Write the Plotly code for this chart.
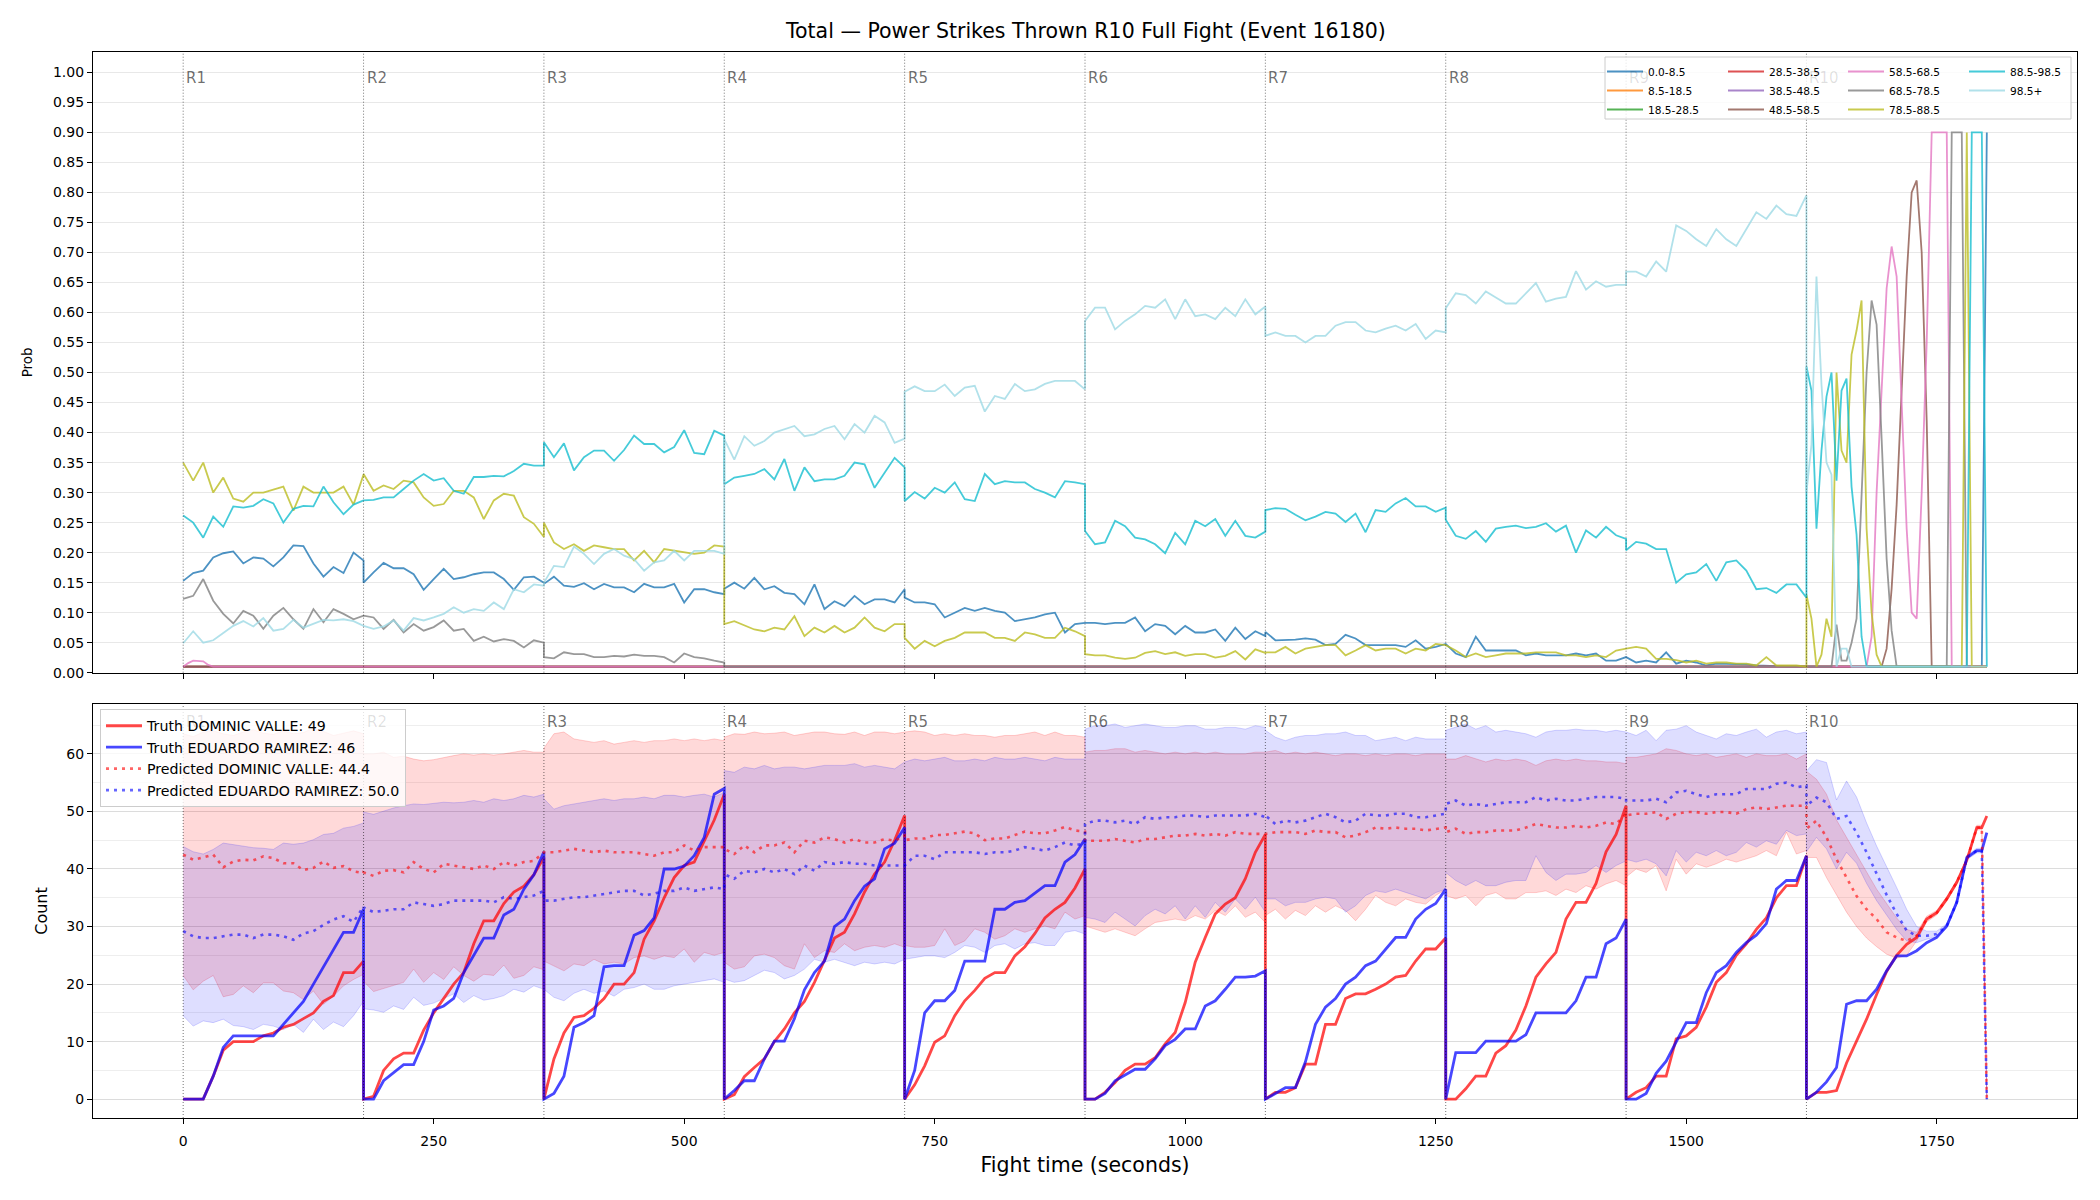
import plotly.graph_objects as go

# ---------------- structure ----------------
ROUND_STARTS = [0, 180, 360, 540, 720, 900, 1080, 1260, 1440, 1620]
ROUND_NAMES = ["R1", "R2", "R3", "R4", "R5", "R6", "R7", "R8", "R9", "R10"]
STEP = 10                      # sampling step (s) used for rounds 1-9
SAMPLES_PER_ROUND = 19         # 0..180 s
TOP_R10_T = [1620, 1625, 1630, 1635, 1640, 1645, 1650, 1655, 1660, 1665, 1670, 1675,
             1680, 1685, 1690, 1695, 1700, 1705, 1710, 1715, 1720, 1725, 1730, 1735,
             1740, 1745, 1750, 1755, 1760, 1765, 1770, 1775, 1780, 1785, 1790, 1795, 1800]
BOT_R10_T = [1620, 1630, 1640, 1650, 1660, 1670, 1680, 1690, 1700, 1710, 1720, 1730,
             1740, 1750, 1760, 1770, 1780, 1790, 1795, 1800]

BINS = ["0.0-8.5", "8.5-18.5", "18.5-28.5", "28.5-38.5", "38.5-48.5", "48.5-58.5",
        "58.5-68.5", "68.5-78.5", "78.5-88.5", "88.5-98.5", "98.5+"]

# ---------------- top panel: bin probabilities ----------------
P_0_8 = [
    [0.153, 0.166, 0.17, 0.192, 0.199, 0.202, 0.182, 0.192, 0.19, 0.177, 0.192, 0.212, 0.211, 0.182, 0.16, 0.176, 0.166, 0.2, 0.187],
    [0.15, 0.167, 0.183, 0.174, 0.174, 0.164, 0.138, 0.156, 0.173, 0.156, 0.159, 0.164, 0.167, 0.167, 0.156, 0.138, 0.159, 0.16, 0.15],
    [0.148, 0.16, 0.145, 0.143, 0.149, 0.139, 0.148, 0.142, 0.142, 0.134, 0.148, 0.142, 0.142, 0.148, 0.117, 0.139, 0.139, 0.134, 0.131],
    [0.14, 0.15, 0.14, 0.158, 0.139, 0.144, 0.133, 0.131, 0.114, 0.147, 0.106, 0.119, 0.111, 0.128, 0.114, 0.122, 0.122, 0.117, 0.139],
    [0.125, 0.117, 0.117, 0.114, 0.092, 0.1, 0.108, 0.103, 0.108, 0.103, 0.1, 0.086, 0.089, 0.092, 0.097, 0.1, 0.067, 0.081, 0.083],
    [0.083, 0.083, 0.081, 0.083, 0.083, 0.092, 0.069, 0.081, 0.078, 0.064, 0.078, 0.067, 0.067, 0.072, 0.053, 0.075, 0.056, 0.069, 0.061],
    [0.068, 0.054, 0.054, 0.055, 0.057, 0.055, 0.046, 0.048, 0.063, 0.057, 0.046, 0.046, 0.046, 0.046, 0.043, 0.054, 0.04, 0.043, 0.048],
    [0.048, 0.032, 0.026, 0.06, 0.037, 0.037, 0.037, 0.037, 0.029, 0.032, 0.029, 0.029, 0.029, 0.032, 0.029, 0.032, 0.02, 0.02, 0.026],
    [0.026, 0.017, 0.02, 0.017, 0.034, 0.015, 0.02, 0.017, 0.012, 0.015, 0.015, 0.015, 0.014, 0.012, 0.012, 0.011, 0.01, 0.01, 0.01],
]
P_0_8_R10 = [0.01, 0.01, 0.01, 0.01, 0.01, 0.01, 0.01, 0.01, 0.01, 0.01,
             0.01, 0.01, 0.01, 0.01, 0.01, 0.01, 0.01, 0.01, 0.01, 0.01,
             0.01, 0.01, 0.01, 0.01, 0.01, 0.01, 0.01, 0.01, 0.01, 0.01,
             0.01, 0.01, 0.01, 0.01, 0.01, 0.01, 0.9]

FLAT_T = [0, 1800]
FLAT_V = [0.01, 0.01]

P_48_58_T = [0, 1620]
P_48_58_V = [0.01, 0.01]
P_48_58_R10 = [0.01, 0.01, 0.01, 0.01, 0.01, 0.01, 0.01, 0.01, 0.01, 0.01,
               0.01, 0.01, 0.01, 0.01, 0.01, 0.01, 0.04, 0.14, 0.28, 0.48,
               0.66, 0.80, 0.82, 0.70, 0.42, 0.01, 0.01, 0.01, 0.01, 0.01,
               0.01, 0.01, 0.01, 0.01, 0.01, 0.01, 0.01]

P_58_68_T = [0, 5, 10, 15, 20, 25, 30, 1620]
P_58_68_V = [0.01, 0.016, 0.02, 0.02, 0.019, 0.013, 0.01, 0.01]
P_58_68_R10 = [0.01, 0.01, 0.01, 0.01, 0.01, 0.01, 0.01, 0.01, 0.01, 0.01,
               0.01, 0.01, 0.01, 0.06, 0.30, 0.47, 0.64, 0.71, 0.66, 0.45,
               0.24, 0.10, 0.09, 0.30, 0.55, 0.9, 0.9, 0.9, 0.9, 0.01,
               0.01, 0.01, 0.01, 0.01, 0.01, 0.01, 0.01]

P_68_78 = [
    [0.123, 0.128, 0.156, 0.12, 0.098, 0.082, 0.103, 0.095, 0.073, 0.095, 0.108, 0.089, 0.073, 0.106, 0.084, 0.106, 0.098, 0.089, 0.095],
    [0.095, 0.092, 0.073, 0.088, 0.067, 0.081, 0.07, 0.076, 0.087, 0.07, 0.073, 0.053, 0.06, 0.052, 0.056, 0.053, 0.042, 0.054, 0.05],
    [0.026, 0.024, 0.034, 0.031, 0.031, 0.026, 0.026, 0.028, 0.027, 0.03, 0.028, 0.028, 0.026, 0.017, 0.032, 0.026, 0.024, 0.02, 0.017],
]
P_68_78_MID_T = [540, 1620]
P_68_78_MID_V = [0.01, 0.01]
P_68_78_R10 = [0.01, 0.01, 0.01, 0.01, 0.01, 0.01, 0.08, 0.02, 0.02, 0.05,
               0.09, 0.29, 0.50, 0.62, 0.58, 0.39, 0.19, 0.07, 0.01, 0.01,
               0.01, 0.01, 0.01, 0.01, 0.01, 0.01, 0.01, 0.01, 0.01, 0.9,
               0.9, 0.9, 0.01, 0.01, 0.01, 0.01, 0.01]

P_78_88 = [
    [0.35, 0.32, 0.35, 0.30, 0.325, 0.29, 0.285, 0.30, 0.30, 0.305, 0.31, 0.27, 0.31, 0.30, 0.30, 0.30, 0.31, 0.28, 0.33],
    [0.331, 0.303, 0.312, 0.306, 0.32, 0.317, 0.292, 0.278, 0.281, 0.303, 0.303, 0.292, 0.256, 0.287, 0.298, 0.295, 0.259, 0.248, 0.226],
    [0.25, 0.217, 0.206, 0.214, 0.203, 0.212, 0.209, 0.206, 0.206, 0.187, 0.203, 0.184, 0.206, 0.203, 0.2, 0.198, 0.2, 0.212, 0.21],
    [0.081, 0.086, 0.079, 0.072, 0.069, 0.075, 0.072, 0.094, 0.061, 0.075, 0.067, 0.078, 0.067, 0.075, 0.092, 0.075, 0.069, 0.081, 0.081],
    [0.058, 0.04, 0.053, 0.044, 0.053, 0.058, 0.067, 0.067, 0.067, 0.058, 0.058, 0.053, 0.067, 0.064, 0.058, 0.058, 0.075, 0.069, 0.061],
    [0.031, 0.029, 0.029, 0.025, 0.023, 0.025, 0.033, 0.036, 0.031, 0.034, 0.028, 0.031, 0.031, 0.025, 0.028, 0.036, 0.022, 0.039, 0.033],
    [0.034, 0.034, 0.043, 0.032, 0.04, 0.043, 0.046, 0.046, 0.029, 0.037, 0.046, 0.037, 0.04, 0.04, 0.032, 0.04, 0.037, 0.048, 0.046],
    [0.046, 0.037, 0.026, 0.032, 0.026, 0.029, 0.032, 0.032, 0.032, 0.034, 0.034, 0.034, 0.029, 0.029, 0.026, 0.029, 0.026, 0.037, 0.04],
    [0.04, 0.043, 0.04, 0.023, 0.023, 0.021, 0.017, 0.02, 0.015, 0.017, 0.017, 0.015, 0.015, 0.012, 0.026, 0.012, 0.012, 0.012, 0.01],
]
P_78_88_R10 = [0.13, 0.09, 0.01, 0.03, 0.09, 0.06, 0.50, 0.37, 0.35, 0.53,
               0.57, 0.62, 0.24, 0.10, 0.03, 0.01, 0.01, 0.01, 0.01, 0.01,
               0.01, 0.01, 0.01, 0.01, 0.01, 0.01, 0.01, 0.01, 0.01, 0.01,
               0.01, 0.01, 0.9, 0.01, 0.01, 0.01, 0.01]

P_88_98 = [
    [0.262, 0.25, 0.225, 0.26, 0.243, 0.277, 0.275, 0.278, 0.289, 0.282, 0.25, 0.273, 0.278, 0.277, 0.31, 0.284, 0.264, 0.28, 0.287],
    [0.287, 0.288, 0.292, 0.292, 0.306, 0.32, 0.331, 0.32, 0.324, 0.303, 0.298, 0.326, 0.326, 0.328, 0.327, 0.336, 0.348, 0.345, 0.345],
    [0.384, 0.359, 0.382, 0.337, 0.359, 0.37, 0.37, 0.353, 0.371, 0.395, 0.381, 0.381, 0.367, 0.376, 0.404, 0.366, 0.364, 0.403, 0.395],
    [0.314, 0.325, 0.328, 0.331, 0.339, 0.322, 0.356, 0.303, 0.342, 0.319, 0.322, 0.322, 0.328, 0.35, 0.347, 0.308, 0.333, 0.358, 0.342],
    [0.286, 0.301, 0.29, 0.308, 0.3, 0.317, 0.289, 0.286, 0.331, 0.314, 0.319, 0.317, 0.317, 0.306, 0.3, 0.292, 0.319, 0.317, 0.314],
    [0.236, 0.214, 0.217, 0.253, 0.244, 0.225, 0.222, 0.214, 0.199, 0.233, 0.214, 0.253, 0.244, 0.256, 0.228, 0.253, 0.228, 0.225, 0.235],
    [0.271, 0.274, 0.273, 0.263, 0.254, 0.26, 0.268, 0.265, 0.251, 0.265, 0.234, 0.271, 0.268, 0.282, 0.291, 0.277, 0.277, 0.268, 0.275],
    [0.255, 0.228, 0.223, 0.236, 0.218, 0.24, 0.243, 0.245, 0.241, 0.243, 0.249, 0.235, 0.245, 0.2, 0.237, 0.225, 0.243, 0.229, 0.223],
    [0.204, 0.218, 0.215, 0.206, 0.206, 0.15, 0.164, 0.167, 0.181, 0.153, 0.184, 0.187, 0.17, 0.139, 0.141, 0.133, 0.147, 0.147, 0.125],
]
P_88_98_R10 = [0.51, 0.47, 0.24, 0.37, 0.46, 0.50, 0.32, 0.47, 0.49, 0.31,
               0.23, 0.06, 0.01, 0.01, 0.01, 0.01, 0.01, 0.01, 0.01, 0.01,
               0.01, 0.01, 0.01, 0.01, 0.01, 0.01, 0.01, 0.01, 0.01, 0.01,
               0.01, 0.01, 0.01, 0.9, 0.9, 0.9, 0.01]

P_98 = [
    [0.049, 0.069, 0.05, 0.054, 0.066, 0.078, 0.086, 0.077, 0.091, 0.07, 0.073, 0.088, 0.075, 0.082, 0.088, 0.087, 0.089, 0.086, 0.078],
    [0.078, 0.073, 0.077, 0.087, 0.07, 0.091, 0.087, 0.092, 0.098, 0.109, 0.1, 0.106, 0.103, 0.117, 0.106, 0.139, 0.134, 0.147, 0.145],
    [0.15, 0.178, 0.176, 0.21, 0.198, 0.181, 0.198, 0.206, 0.195, 0.189, 0.17, 0.184, 0.187, 0.203, 0.187, 0.203, 0.203, 0.203, 0.198],
    [0.389, 0.355, 0.394, 0.378, 0.386, 0.4, 0.406, 0.411, 0.394, 0.397, 0.406, 0.411, 0.389, 0.414, 0.4, 0.428, 0.417, 0.383, 0.39],
    [0.468, 0.477, 0.469, 0.469, 0.48, 0.461, 0.475, 0.478, 0.435, 0.461, 0.456, 0.481, 0.469, 0.472, 0.481, 0.486, 0.486, 0.486, 0.472],
    [0.586, 0.608, 0.608, 0.572, 0.586, 0.597, 0.611, 0.608, 0.622, 0.589, 0.622, 0.594, 0.597, 0.589, 0.608, 0.594, 0.622, 0.597, 0.61],
    [0.561, 0.567, 0.561, 0.561, 0.55, 0.561, 0.561, 0.578, 0.584, 0.584, 0.57, 0.567, 0.573, 0.578, 0.57, 0.581, 0.556, 0.57, 0.567],
    [0.607, 0.632, 0.629, 0.615, 0.635, 0.625, 0.615, 0.615, 0.632, 0.649, 0.618, 0.623, 0.626, 0.669, 0.638, 0.652, 0.643, 0.646, 0.646],
    [0.668, 0.668, 0.66, 0.685, 0.668, 0.745, 0.736, 0.722, 0.711, 0.739, 0.722, 0.711, 0.739, 0.767, 0.756, 0.778, 0.764, 0.761, 0.795],
]
P_98_R10 = [0.30, 0.38, 0.66, 0.48, 0.35, 0.33, 0.01, 0.04, 0.04, 0.01,
            0.01, 0.01, 0.01, 0.01, 0.01, 0.01, 0.01, 0.01, 0.01, 0.01,
            0.01, 0.01, 0.01, 0.01, 0.01, 0.01, 0.01, 0.01, 0.01, 0.01,
            0.01, 0.01, 0.01, 0.01, 0.01, 0.01, 0.01]

# ---------------- bottom panel: counts ----------------
RED_NAME = "DOMINIC VALLE"
BLUE_NAME = "EDUARDO RAMIREZ"
RED_FINAL_TRUTH = 49
BLUE_FINAL_TRUTH = 46
RED_FINAL_PRED = 44.4
BLUE_FINAL_PRED = 50.0

TRUTH_RED = [
    [0, 0, 0, 4, 8.5, 10, 10, 10, 11, 11.5, 12.5, 13, 14, 15, 17, 18, 22, 22, 24],
    [0, 0.5, 5, 7, 8, 8, 12, 15, 17.5, 20, 22, 27, 31, 31, 34, 36, 37, 39, 42],
    [0, 7, 11.5, 14.2, 14.5, 15.8, 17.5, 20, 20, 22, 27.8, 31, 35, 38.5, 40.6, 41.2, 45, 48.5, 53],
    [0, 0.8, 3.9, 5.5, 7, 10, 12.2, 15, 17, 20.3, 24, 28, 29, 32.2, 36, 39.1, 41.2, 45, 49.3],
    [0, 2.5, 5.8, 9.9, 11, 14.5, 17.1, 18.9, 21, 22, 22, 24.9, 26.5, 28.8, 31.5, 33, 34.2, 36.7, 40],
    [0, 0, 1.2, 2.9, 5, 6.1, 6.1, 7.2, 9.6, 11.6, 16.8, 23.8, 28.1, 32.2, 33.9, 35, 38.3, 42.9, 46],
    [0, 1.2, 1.2, 2, 6.1, 6.1, 13, 13, 17.5, 18.3, 18.3, 19.1, 20, 21.2, 21.5, 24, 26.1, 26.1, 28],
    [0, 0, 1.8, 4, 4, 8, 9.3, 12, 16.2, 21.2, 23.5, 25.5, 31.3, 34.2, 34.2, 37.5, 43, 46, 51],
    [0, 1.2, 2, 4, 4, 10.5, 11, 12.5, 16, 20.3, 22, 25, 27, 29.5, 31.5, 35, 37.1, 37.1, 42.3],
]
TRUTH_RED_R10 = [0, 1.2, 1.2, 1.5, 6.3, 10.1, 13.9, 18.2, 22.2, 25, 26.9, 28.1, 31.3, 32.4, 34.8, 37.7, 41.5, 47.2, 47.2, 49.2]

TRUTH_BLUE = [
    [0, 0, 0, 4, 9, 11, 11, 11, 11, 11, 13, 15, 17, 20, 23, 26, 29, 29, 33],
    [0, 0, 3.2, 4.6, 6, 6, 10, 15.5, 16.2, 17.5, 22, 25, 28, 28, 32, 33, 36.5, 39, 43],
    [0, 1, 4, 12.5, 13.3, 14.5, 23, 23.2, 23.2, 28.5, 29.3, 31.5, 40, 40, 40.5, 42.3, 45.5, 53, 54],
    [0, 1.5, 3.2, 3.2, 7, 10.1, 10.1, 14, 19, 22, 24, 30, 31.3, 34.5, 37, 38.3, 43.5, 44.5, 47.2],
    [0, 5, 15, 17.1, 17.1, 18.9, 24, 24, 24, 33, 33, 34.2, 34.5, 35.8, 37.1, 37.1, 41.2, 42.5, 45.2],
    [0, 0, 1, 3.2, 4.2, 5.2, 5.2, 7, 9.3, 10.4, 12.2, 12.2, 16.2, 17.1, 19.1, 21.2, 21.2, 21.4, 22.3],
    [0, 1, 2, 2, 6.5, 13, 16, 17.5, 20, 21.2, 23.2, 24, 26.1, 28.1, 28.1, 31.3, 33, 34, 36.5],
    [0, 8.1, 8.1, 8.1, 10.1, 10.1, 10.1, 10.1, 11.2, 15, 15, 15, 15, 17.1, 21.2, 21.2, 27, 28, 31.3],
    [0, 0, 1, 4.5, 6.6, 9.9, 13.3, 13.3, 18.5, 22, 23.2, 25.5, 27.2, 28.5, 30.5, 36.5, 38, 38, 42.3],
]
TRUTH_BLUE_R10 = [0, 1.2, 3, 5.5, 16.5, 17.1, 17.1, 19.1, 22.3, 24.9, 24.9, 25.8, 27.2, 28.1, 30.1, 34.2, 42, 43.2, 43.2, 46.3]

PRED_RED = [
    [42.5, 41.6, 42, 42.5, 40.3, 41.3, 41.6, 41.5, 42.2, 41.9, 41, 41, 39.8, 40.2, 41.3, 40.2, 40.5, 39.6, 39.3],
    [39.4, 38.8, 39.7, 39.8, 39.4, 41.2, 40, 39.4, 40.9, 40.6, 40.3, 40, 40.6, 40, 41.2, 40.6, 41.2, 41.4, 42.9],
    [42.9, 42.9, 43.2, 43.5, 43.2, 42.9, 43.2, 42.9, 42.9, 42.9, 42.6, 42.3, 42.9, 42.9, 44.1, 43.2, 43.8, 43.8, 43.8],
    [43.5, 42.6, 44.1, 42.9, 44.1, 44.1, 44.6, 42.9, 44.9, 44.6, 45.5, 45.2, 44.6, 45.2, 44.6, 44.6, 45.2, 44.9, 45.8],
    [45.0, 45.3, 45.3, 45.9, 45.9, 46.2, 46.5, 46.2, 45.0, 45.3, 45.3, 45.9, 46.5, 46.2, 46.2, 46.7, 47.3, 46.7, 46.5],
    [44.9, 44.9, 44.9, 45.2, 44.9, 44.6, 45.2, 45.2, 45.5, 45.8, 45.8, 46.1, 45.8, 46.1, 45.8, 46.4, 46.1, 46.1, 46.1],
    [46.1, 46.4, 46.4, 46.4, 46.1, 46.7, 46.4, 46.4, 45.5, 45.8, 46.4, 47.2, 47, 47.2, 47, 47, 46.7, 47, 47.2],
    [46.4, 47, 46.1, 46.4, 46.4, 46.7, 46.7, 46.7, 47.2, 47.8, 47.5, 47.2, 47.2, 47.5, 47.2, 47.5, 48.1, 47.8, 49.6],
    [49.3, 49.6, 49.6, 49.9, 48.7, 49.6, 49.9, 49.9, 49.6, 49.9, 49.9, 49.6, 50.4, 50.7, 50.4, 50.7, 51, 51, 51],
]
PRED_RED_R10 = [47, 48.4, 45.5, 41.7, 38.5, 35.3, 33, 31.3, 29, 28.1, 27.5, 28.4, 31.3, 32.4, 34.8, 37.7, 41.5, 47.2, 47.2, 0]

PRED_BLUE = [
    [29.2, 28.3, 28, 28, 28.3, 28.6, 28.6, 28, 28.6, 28.6, 28.3, 27.7, 28.8, 29.2, 30.3, 31.2, 31.8, 30.8, 33.5],
    [33.3, 32.5, 32.8, 33, 33, 34.2, 33.9, 33.6, 33.9, 34.5, 34.5, 34.5, 34.5, 34.2, 35.1, 34.8, 35.1, 35.4, 36.2],
    [34.5, 34.5, 34.8, 35.1, 35.1, 35.4, 35.7, 35.9, 36.2, 36.2, 35.4, 35.7, 36.2, 36.2, 36.8, 36.2, 36.5, 36.8, 36.5],
    [39.1, 38.3, 39.7, 39.4, 40, 39.4, 40, 39.1, 40.6, 39.7, 41.2, 40.9, 41.2, 40.9, 40.9, 40.6, 40.6, 40.6, 40.6],
    [40.6, 42.3, 42.3, 41.7, 42.9, 42.9, 42.9, 42.9, 42.6, 42.9, 42.9, 43.2, 43.8, 43.5, 43.2, 43.8, 44.6, 44.1, 44.5],
    [47.8, 48.4, 48.4, 48.1, 48.4, 47.8, 49, 48.7, 49, 49, 49.3, 49.3, 49, 49.3, 49.3, 49.3, 49.3, 49.6, 49],
    [49.3, 47.8, 48.4, 48.1, 48.4, 49, 49.6, 49, 48.1, 48.4, 49.6, 49.3, 49.3, 49.6, 49.6, 49, 49, 49.3, 49.6],
    [51.3, 51.9, 51, 51.3, 51, 51.3, 51.6, 51.6, 51.6, 52.5, 51.9, 52.2, 51.9, 51.9, 52.2, 52.5, 52.5, 52.5, 52.2],
    [51.9, 51.9, 51.9, 52.2, 51.6, 53.3, 53.6, 53, 52.5, 53, 53, 53, 53.9, 53.9, 53.9, 54.8, 55, 54.2, 54.5],
]
PRED_BLUE_R10 = [51, 52.4, 51.6, 48.7, 49.2, 46.3, 42.9, 39.1, 35.5, 32.2, 29.3, 28.4, 28.4, 28.7, 30.1, 34.2, 42, 43.2, 43.2, 0]

RED_HI = [
    [63.5, 63, 63.8, 64, 63.5, 63.2, 63.8, 64.2, 63.6, 63.4, 64, 63.5, 63.7, 64.5, 63.9, 63.2, 63.6, 64, 63.5],
    [60, 60, 60.3, 59.4, 59.6, 59.1, 58.8, 59, 59.4, 59.7, 60, 59.8, 60, 59.8, 60, 60.3, 60.6, 60.3, 60.3],
    [61, 63.5, 63.8, 62.6, 62.3, 62, 62.3, 61.7, 62, 62.3, 62, 62.3, 62.3, 62.6, 62.3, 62.6, 62.3, 62.6, 62.3],
    [62.9, 63.5, 63.4, 63.8, 63.5, 63.6, 63.8, 63.2, 63.5, 63.8, 63.8, 63.5, 63.4, 63.8, 63.2, 63.8, 63.8, 63.5, 63.8],
    [63.8, 64, 63.8, 63.2, 63.5, 63.2, 63.5, 63.2, 63.2, 62.9, 63.2, 63.2, 63.5, 63.8, 63.2, 63.8, 63.2, 63.2, 62.9],
    [60.3, 60.6, 60.6, 60.9, 60.9, 60.3, 60.6, 60.3, 60, 60.3, 60, 60.3, 60, 60.3, 60, 60, 60, 60.3, 60.3],
    [60.3, 60.6, 60, 60.3, 60, 60.3, 60, 59.7, 60, 60, 59.7, 60, 59.7, 60, 60, 59.7, 60, 60, 60],
    [59.1, 59.1, 59.7, 59.1, 58.6, 59.1, 58.8, 59.1, 58.8, 58, 58.8, 59.1, 58.8, 59.1, 58.8, 58.8, 58.6, 58.6, 58.3],
    [59.4, 59.4, 59.7, 60, 60.9, 60.6, 60, 59.7, 60, 59.4, 59.7, 60, 59.4, 60, 59.7, 59.7, 60, 59.1, 60],
]
RED_HI_R10 = [57, 55.6, 53, 48.5, 45.5, 42.5, 39.5, 36.5, 34, 31.5, 29.5, 29, 31.8, 32.8, 35.2, 38, 41.8, 47.6, 47.6, 0]

RED_LO = [
    [21.5, 19, 20.5, 21.5, 17.8, 18.2, 19.7, 18.5, 20.2, 20.2, 18.8, 18.5, 17.3, 18.8, 16.5, 17.9, 19.7, 20.8, 21.7],
    [20.5, 18.7, 19.2, 19.8, 20.3, 22.6, 20.3, 22, 20.8, 23, 21.5, 20.5, 21.7, 21.5, 23.3, 21, 21.5, 23, 22.5],
    [24, 23.2, 22.3, 23.5, 23.2, 24.3, 23.5, 23.8, 23.5, 24.6, 24.9, 24.3, 24.9, 24.6, 26.1, 23.8, 25.5, 25, 25.5],
    [23.8, 22.6, 23, 24.9, 25.2, 24.6, 23.2, 22.6, 27, 24.6, 25.8, 25.5, 27, 25.8, 26.4, 26.7, 26.4, 27, 26.4],
    [26.7, 26.4, 26.4, 26.7, 29.6, 26.7, 27.5, 29.6, 29, 27.8, 28.4, 29.6, 29, 29.6, 30.1, 29.6, 32.5, 31.3, 31.9],
    [30.1, 29.6, 29, 29.6, 29, 28.4, 29.6, 30.7, 31, 31.3, 31, 31.9, 31.3, 32.8, 31.9, 33.6, 31.6, 32.5, 30.7],
    [31.9, 33, 31.3, 32.8, 31.9, 33.6, 32.5, 33.6, 32.8, 31, 33, 35.4, 34.2, 33.6, 34.8, 34.2, 33.9, 35.4, 36.5],
    [35.4, 34.8, 35.4, 33.6, 35.4, 35.9, 34.8, 34.8, 35.9, 35.9, 36.2, 35.4, 36.5, 35.9, 37.1, 36.5, 37.4, 38, 37.1],
    [38.6, 40, 39.4, 40.6, 36.2, 41.7, 39.1, 40.9, 40.3, 40.9, 41.7, 41.2, 41.7, 42.3, 43.2, 42.3, 46.4, 42.6, 43.2],
]
RED_LO_R10 = [42, 42, 38.5, 35.5, 32.5, 30, 28, 26.5, 25.2, 24.5, 25, 27.5, 30.8, 32, 34.4, 37.3, 41.2, 46.8, 46.8, 0]

BLUE_HI = [
    [43.9, 43, 42.6, 43.4, 44.5, 44.2, 43.9, 43.7, 43.6, 43.4, 44.5, 44.3, 44.5, 45.1, 46, 46.2, 47.1, 47.4, 48],
    [49.9, 49.5, 50.1, 50.6, 51, 51.3, 51.2, 51.4, 51.6, 51.5, 51.6, 51.9, 51.6, 52.2, 51.9, 52.2, 52.8, 52.5, 53],
    [52.2, 50.4, 51, 51.3, 51.6, 51.9, 52.2, 51.9, 52.2, 52.2, 52.5, 52.2, 52.8, 52.8, 52.5, 52.8, 53, 52.5, 53.3],
    [57.1, 56.8, 57.7, 57.4, 58, 57.4, 57.7, 57.7, 57.4, 57.7, 58, 58, 58, 58.3, 57.7, 58, 57.7, 57.4, 58.6],
    [58.6, 59.1, 58.8, 59.1, 59.4, 58.8, 58.8, 59.1, 58.8, 59.4, 59.1, 59.1, 59.4, 59.1, 58.8, 59.4, 59.1, 59.1, 59.1],
    [64.3, 64.9, 64.9, 65.2, 64.6, 64.9, 65.2, 64.9, 64.6, 64.6, 64.9, 64.9, 64.3, 64.3, 64.6, 64.6, 64.3, 64.9, 64.6],
    [64.1, 62.9, 62.3, 62.9, 63.2, 63.2, 63.5, 63.5, 63.8, 63.2, 63.2, 62.3, 62.6, 62.9, 62.3, 62.9, 62.6, 62.6, 62.6],
    [64.1, 64.6, 65.2, 64.3, 64.9, 63.8, 64.1, 63.8, 63.5, 62.9, 63.8, 64.1, 64.1, 64.3, 64.1, 64.1, 63.8, 64.1, 63.8],
    [63.8, 63.2, 64.1, 62.3, 64.1, 64.3, 64.9, 63.8, 63.2, 62.6, 63.5, 63.2, 63.8, 64.3, 62.9, 63.8, 64.1, 63.5, 63.8],
]
BLUE_HI_R10 = [57, 59, 58.5, 52, 55.3, 52.5, 48, 44, 40.5, 36.8, 33, 30, 29.2, 29.2, 30.5, 34.6, 42.4, 43.6, 43.6, 0]

BLUE_LO = [
    [14.5, 12.7, 13.6, 13.3, 13.9, 12.8, 12.6, 12.1, 13, 12.7, 12.1, 13, 11.6, 13.9, 12.1, 13.4, 12.6, 14.5, 17],
    [15.7, 15.5, 15.1, 16.2, 15.6, 17.7, 16.3, 16.7, 17.5, 18.3, 16.8, 18, 17.2, 17.5, 18, 19.1, 18.6, 19.7, 19.1],
    [19.1, 17.7, 17.1, 18.4, 19.1, 18.4, 18.8, 17.9, 19.1, 19.4, 20, 19.1, 19.1, 19.7, 20, 20.3, 20.6, 20.9, 20.3],
    [20.9, 20.3, 20.6, 21.5, 22.4, 22, 20.9, 21.5, 22.6, 24.3, 23.8, 24.3, 23.8, 23.2, 23.8, 23.5, 23.8, 23.5, 24.3],
    [24.3, 24.6, 24.9, 24.9, 24.6, 25.5, 26.7, 26.4, 25.5, 26.7, 27, 26.1, 27, 27.2, 26.7, 26.7, 29, 29.3, 28.7],
    [31.6, 31.3, 30.7, 32.5, 31.3, 30.1, 31.9, 33, 32.2, 33.6, 31.3, 33.6, 31.6, 34.2, 32.5, 34.8, 33, 35.1, 32.5],
    [34.8, 34.8, 33.6, 34.2, 34.2, 34.8, 35.1, 34.8, 32.5, 33.6, 35.4, 36.2, 35.9, 36.5, 35.9, 35.4, 34.8, 35.9, 36.5],
    [39.4, 38, 37.1, 38, 37.1, 37.1, 37.7, 38, 38, 42.3, 39.4, 38, 39.1, 39.1, 39.4, 40.6, 39.4, 40.6, 41.4],
    [41.7, 41.2, 41.7, 40.9, 38.8, 43.2, 41.2, 42.9, 42.3, 43.2, 42.3, 42.9, 44.6, 43.8, 44.9, 44.3, 46.7, 45.8, 46.1],
]
BLUE_LO_R10 = [43, 45.5, 43.5, 40, 42.9, 41, 37.5, 34.5, 32, 29.5, 27.5, 27.2, 27.8, 28.2, 29.7, 33.8, 41.6, 42.8, 42.8, 0]

# round labels that sit behind a legend box in the picture (shown faded)
TOP_LABELS_UNDER_LEGEND = ["R9", "R10"]
BOTTOM_LABELS_UNDER_LEGEND = ["R1", "R2"]


# ---------------- helpers ----------------
def rounds_x(n_rounds):
    xs = []
    for r in range(n_rounds):
        xs.extend(ROUND_STARTS[r] + STEP * i for i in range(SAMPLES_PER_ROUND))
    return xs


def cat(segments):
    out = []
    for seg in segments:
        out.extend(seg)
    return out


X9 = rounds_x(9)
TOP_MAIN_X = X9 + TOP_R10_T
BOT_X = X9 + BOT_R10_T

COLORS = ["rgba(31,119,180,0.8)", "rgba(255,127,14,0.8)", "rgba(44,160,44,0.8)",
          "rgba(214,39,40,0.8)", "rgba(148,103,189,0.8)", "rgba(140,86,75,0.8)",
          "rgba(227,119,194,0.8)", "rgba(127,127,127,0.8)", "rgba(188,189,34,0.8)",
          "rgba(23,190,207,0.8)", "rgba(158,218,229,0.8)"]
LEGEND_OF_BIN = ["legend", "legend", "legend", "legend2", "legend2", "legend2",
                 "legend3", "legend3", "legend3", "legend4", "legend4"]

top_series = [
    (TOP_MAIN_X, cat(P_0_8) + P_0_8_R10),
    (FLAT_T, FLAT_V),
    (FLAT_T, FLAT_V),
    (FLAT_T, FLAT_V),
    (FLAT_T, FLAT_V),
    (P_48_58_T + TOP_R10_T, P_48_58_V + P_48_58_R10),
    (P_58_68_T + TOP_R10_T, P_58_68_V + P_58_68_R10),
    (rounds_x(3) + P_68_78_MID_T + TOP_R10_T, cat(P_68_78) + P_68_78_MID_V + P_68_78_R10),
    (TOP_MAIN_X, cat(P_78_88) + P_78_88_R10),
    (TOP_MAIN_X, cat(P_88_98) + P_88_98_R10),
    (TOP_MAIN_X, cat(P_98) + P_98_R10),
]

FONT = "DejaVu Sans"
fig = go.Figure()

for name, (xs, ys), col, lg in zip(BINS, top_series, COLORS, LEGEND_OF_BIN):
    fig.add_trace(go.Scatter(x=xs, y=ys, mode="lines", name=name,
                             line=dict(color=col, width=1.8),
                             xaxis="x", yaxis="y", legend=lg, hoverinfo="skip"))

# bands
RED_BAND_FILL = "rgba(255,0,0,0.15)"
BLUE_BAND_FILL = "rgba(0,0,255,0.13)"
fig.add_trace(go.Scatter(x=BOT_X, y=cat(RED_LO) + RED_LO_R10, mode="lines",
                         line=dict(color="rgba(255,0,0,0.18)", width=1),
                         showlegend=False, xaxis="x2", yaxis="y2", hoverinfo="skip"))
fig.add_trace(go.Scatter(x=BOT_X, y=cat(RED_HI) + RED_HI_R10, mode="lines",
                         line=dict(color="rgba(255,0,0,0.18)", width=1),
                         fill="tonexty", fillcolor=RED_BAND_FILL,
                         showlegend=False, xaxis="x2", yaxis="y2", hoverinfo="skip"))
fig.add_trace(go.Scatter(x=BOT_X, y=cat(BLUE_LO) + BLUE_LO_R10, mode="lines",
                         line=dict(color="rgba(0,0,255,0.16)", width=1),
                         showlegend=False, xaxis="x2", yaxis="y2", hoverinfo="skip"))
fig.add_trace(go.Scatter(x=BOT_X, y=cat(BLUE_HI) + BLUE_HI_R10, mode="lines",
                         line=dict(color="rgba(0,0,255,0.16)", width=1),
                         fill="tonexty", fillcolor=BLUE_BAND_FILL,
                         showlegend=False, xaxis="x2", yaxis="y2", hoverinfo="skip"))

fig.add_trace(go.Scatter(x=BOT_X, y=cat(TRUTH_RED) + TRUTH_RED_R10, mode="lines",
                         name=f"Truth {RED_NAME}: {RED_FINAL_TRUTH}",
                         line=dict(color="rgba(255,0,0,0.72)", width=2.8),
                         xaxis="x2", yaxis="y2", legend="legend5", hoverinfo="skip"))
fig.add_trace(go.Scatter(x=BOT_X, y=cat(TRUTH_BLUE) + TRUTH_BLUE_R10, mode="lines",
                         name=f"Truth {BLUE_NAME}: {BLUE_FINAL_TRUTH}",
                         line=dict(color="rgba(0,0,255,0.72)", width=2.8),
                         xaxis="x2", yaxis="y2", legend="legend5", hoverinfo="skip"))
fig.add_trace(go.Scatter(x=BOT_X, y=cat(PRED_RED) + PRED_RED_R10, mode="lines",
                         name=f"Predicted {RED_NAME}: {RED_FINAL_PRED:.1f}",
                         line=dict(color="rgba(255,0,0,0.6)", width=2.6, dash="3px,5px"),
                         xaxis="x2", yaxis="y2", legend="legend5", hoverinfo="skip"))
fig.add_trace(go.Scatter(x=BOT_X, y=cat(PRED_BLUE) + PRED_BLUE_R10, mode="lines",
                         name=f"Predicted {BLUE_NAME}: {BLUE_FINAL_PRED:.1f}",
                         line=dict(color="rgba(0,0,255,0.6)", width=2.6, dash="3px,5px"),
                         xaxis="x2", yaxis="y2", legend="legend5", hoverinfo="skip"))

# round markers
LABEL_COLOR = "rgba(0,0,0,0.58)"
LABEL_COLOR_FADED = "rgba(0,0,0,0.13)"
shapes = []
annotations = []
for rs, rn in zip(ROUND_STARTS, ROUND_NAMES):
    for xr, yr, ylab, hidden in (("x", "y", 0.99, TOP_LABELS_UNDER_LEGEND),
                                 ("x2", "y2", 65.5, BOTTOM_LABELS_UNDER_LEGEND)):
        shapes.append(dict(type="line", xref=xr, yref=yr + " domain", x0=rs, x1=rs, y0=0, y1=1,
                           line=dict(color="rgba(0,0,0,0.55)", width=1, dash="1px,2px"),
                           layer="above"))
        col = LABEL_COLOR_FADED if rn in hidden else LABEL_COLOR
        annotations.append(dict(x=rs, y=ylab, xref=xr, yref=yr, text=rn, showarrow=False,
                                xanchor="left", yanchor="middle", xshift=1,
                                font=dict(family=FONT, size=15, color=col)))

W_PLOT = 2077 - 93
H_PLOT = 1118 - 52


def px_x(px):
    return (px - 93) / W_PLOT


def px_y(py):
    return (1118 - py) / H_PLOT


# background box for the 4-column legend
shapes.append(dict(type="rect", xref="paper", yref="paper",
                   x0=px_x(1605), x1=px_x(2071), y0=px_y(119), y1=px_y(57),
                   fillcolor="rgba(255,255,255,0.8)", line=dict(color="#cccccc", width=1),
                   layer="above"))

annotations.append(dict(text="Total — Power Strikes Thrown R10 Full Fight (Event 16180)",
                        x=0.5, y=px_y(31), xref="paper", yref="paper", showarrow=False,
                        xanchor="center", yanchor="middle",
                        font=dict(family=FONT, size=20.5, color="black")))

axis_common = dict(showline=True, mirror=True, linecolor="black", linewidth=1.2,
                   ticks="outside", ticklen=5, tickwidth=1.1, tickcolor="black",
                   zeroline=False, tickfont=dict(family=FONT, size=14, color="black"))

TOP_LEG_Y = px_y(57)
leg_common = dict(bgcolor="rgba(0,0,0,0)", borderwidth=0, yanchor="top", xanchor="left",
                  font=dict(family=FONT, size=10.6, color="black"), itemwidth=36,
                  tracegroupgap=0, traceorder="normal")

fig.update_layout(
    width=2100, height=1200,
    margin=dict(l=93, r=23, t=52, b=82),
    paper_bgcolor="white", plot_bgcolor="white",
    showlegend=True,
    xaxis=dict(domain=[0, 1], range=[-90, 1890], anchor="y", showgrid=False,
               showticklabels=False, tick0=0, dtick=250, **axis_common),
    yaxis=dict(domain=[px_y(672.7), 1], range=[0, 1.034], anchor="x", tick0=0, dtick=0.05,
               tickformat=".2f", showgrid=True, gridcolor="#e8e8e8", gridwidth=1,
               title=dict(text="Prob", standoff=17, font=dict(family=FONT, size=13.5, color="black")),
               **axis_common),
    xaxis2=dict(domain=[0, 1], range=[-90, 1890], anchor="y2", matches="x", showgrid=False,
                tick0=0, dtick=250, ticklabelstandoff=5,
                title=dict(text="Fight time (seconds)", standoff=9,
                           font=dict(family=FONT, size=20.5, color="black")),
                **axis_common),
    yaxis2=dict(domain=[0, px_y(704)], range=[-3.27, 68.67], anchor="x2", tick0=0, dtick=10,
                showgrid=True, gridcolor="#dcdcdc", gridwidth=1,
                minor=dict(dtick=5, showgrid=True, gridcolor="#eeeeee", ticks=""),
                title=dict(text="Count", standoff=14, font=dict(family=FONT, size=16, color="black")),
                **axis_common),
    legend=dict(x=px_x(1602), y=TOP_LEG_Y, **leg_common),
    legend2=dict(x=px_x(1723), y=TOP_LEG_Y, **leg_common),
    legend3=dict(x=px_x(1843), y=TOP_LEG_Y, **leg_common),
    legend4=dict(x=px_x(1964), y=TOP_LEG_Y, **leg_common),
    legend5=dict(x=px_x(100), y=px_y(709), xanchor="left", yanchor="top",
                 bgcolor="rgba(255,255,255,0.8)", bordercolor="#cccccc", borderwidth=1,
                 font=dict(family=FONT, size=14.2, color="black"), itemwidth=36,
                 traceorder="normal"),
    shapes=shapes,
    annotations=annotations,
    hovermode=False,
)

fig.write_html("out.html")
